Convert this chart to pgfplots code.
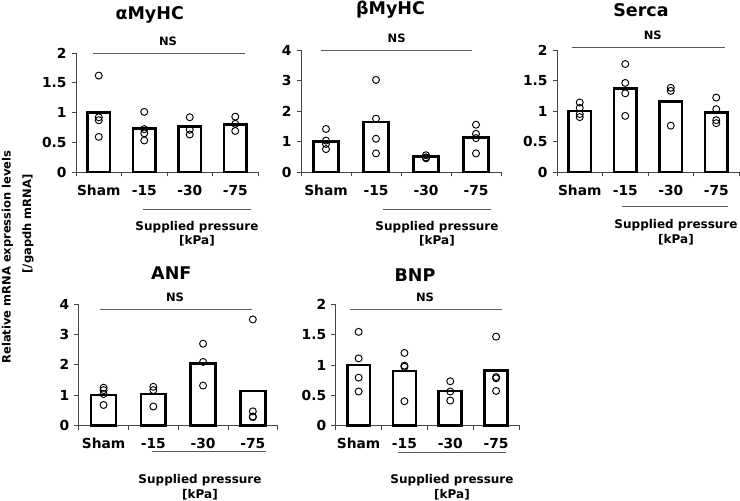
\documentclass[border=0pt]{standalone}
\usepackage{fontspec}
\setmainfont{DejaVu Sans}
\usepackage{pgfplots}
\pgfplotsset{compat=1.18}

\definecolor{axgray}{RGB}{70,70,70}
\definecolor{nsgray}{RGB}{89,89,89}

\pgfplotsset{
  panel/.style={
    scale only axis, anchor=south west, clip=false,
    axis x line*=bottom, axis y line*=left,
    axis line style={-, axgray, line width=0.9pt},
    xmin=-0.5, xmax=3.5, ymin=0,
    xtick={-0.5,0.5,1.5,2.5,3.5},
    xticklabels={Sham,-15,-30,-75},
    x tick label as interval,
    tick align=outside,
    major tick length=4.5pt,
    tick style={axgray, line width=0.9pt},
    ticklabel style={font=\fontsize{13.8}{16}\selectfont\bfseries},
    xticklabel style={yshift=-5pt},
    yticklabel style={xshift=-1.5pt},
    /pgf/number format/assume math mode=true,
  },
  bars/.style={ybar, bar width=0.5, fill=white, draw=black, line width=2.7pt},
  dots/.style={only marks, mark=o, mark size=3.5pt, mark options={black, line width=0.95pt}},
}

\newcommand{\suplab}[2]{\node[align=center, font=\fontsize{12}{14.8}\selectfont\bfseries] at (#1pt,#2pt) {Supplied pressure\\{}[kPa]};}
\newcommand{\nstext}[2]{\node[font=\fontsize{11.5}{13}\selectfont\bfseries] at (#1pt,#2pt) {NS};}

\begin{document}
\begin{tikzpicture}
\path[use as bounding box] (0pt,0pt) rectangle (740pt,501pt);

% alpha MyHC
\begin{axis}[panel, at={(76pt,329pt)}, width=182pt, height=119pt,
  ymax=2, ytick={0,0.5,1,1.5,2}]
\addplot[bars] coordinates {(0,1.0) (1,0.73) (2,0.76) (3,0.80)};
\addplot[dots] coordinates {(0,1.62) (0,0.92) (0,0.87) (0,0.59)
  (1,1.01) (1,0.72) (1,0.65) (1,0.53)
  (2,0.92) (2,0.71) (2,0.63)
  (3,0.93) (3,0.81) (3,0.69)};
\end{axis}

% beta MyHC
\begin{axis}[panel, at={(301pt,329pt)}, width=200pt, height=122pt,
  ymax=4, ytick={0,1,2,3,4}]
\addplot[bars] coordinates {(0,1.0) (1,1.64) (2,0.51) (3,1.14)};
\addplot[dots] coordinates {(0,1.41) (0,1.03) (0,0.92) (0,0.75)
  (1,3.02) (1,1.75) (1,1.09) (1,0.61)
  (2,0.55) (2,0.48) (2,0.45)
  (3,1.55) (3,1.25) (3,1.11) (3,0.61)};
\end{axis}

% Serca
\begin{axis}[panel, at={(557pt,329pt)}, width=182pt, height=122pt,
  ymax=2, ytick={0,0.5,1,1.5,2}]
\addplot[bars] coordinates {(0,1.0) (1,1.37) (2,1.16) (3,0.98)};
\addplot[dots] coordinates {(0,1.14) (0,1.05) (0,0.95) (0,0.90)
  (1,1.77) (1,1.46) (1,1.29) (1,0.92)
  (2,1.38) (2,1.33) (2,0.76)
  (3,1.22) (3,1.03) (3,0.85) (3,0.80)};
\end{axis}

% ANF
\begin{axis}[panel, at={(78.7pt,75.7pt)}, width=199pt, height=121.3pt,
  ymax=4, ytick={0,1,2,3,4}]
\addplot[bars] coordinates {(0,1.0) (1,1.03) (2,2.03) (3,1.13)};
\addplot[dots] coordinates {(0,1.24) (0,1.16) (0,1.03) (0,0.67)
  (1,1.27) (1,1.16) (1,0.62)
  (2,2.69) (2,2.09) (2,1.31)
  (3,3.49) (3,0.46) (3,0.29) (3,0.27)};
\end{axis}

% BNP
\begin{axis}[panel, at={(335.7pt,75.7pt)}, width=183.3pt, height=120.6pt,
  ymax=2, ytick={0,0.5,1,1.5,2}]
\addplot[bars] coordinates {(0,1.0) (1,0.90) (2,0.57) (3,0.91)};
\addplot[dots] coordinates {(0,1.55) (0,1.11) (0,0.79) (0,0.56)
  (1,1.20) (1,0.99) (1,0.97) (1,0.40)
  (2,0.73) (2,0.56) (2,0.41)
  (3,1.47) (3,0.80) (3,0.78) (3,0.57)};
\end{axis}

% titles
\begin{scope}[every node/.style={font=\fontsize{17.5}{20}\selectfont\bfseries}]
\node at (149.7pt,485.7pt) {αMyHC};
\node at (390.5pt,491.8pt) {βMyHC};
\node at (641pt,491.3pt) {Serca};
\node at (171.3pt,227.7pt) {ANF};
\node at (415pt,226.3pt) {BNP};
\end{scope}

% NS brackets
\begin{scope}[nsgray, line width=0.9pt]
\draw (93pt,448pt) -- (245pt,448pt);
\draw (321pt,451pt) -- (472pt,451pt);
\draw (572pt,453.3pt) -- (725pt,453.3pt);
\draw (100pt,191.7pt) -- (252pt,191.7pt);
\draw (350pt,191.7pt) -- (501.7pt,191.7pt);
\end{scope}
\nstext{168}{459.3}
\nstext{396.7}{463}
\nstext{652.7}{466}
\nstext{175}{204}
\nstext{425}{204}

% supplied pressure
\begin{scope}[nsgray, line width=0.9pt]
\draw (143pt,292pt) -- (251pt,292pt);
\draw (383pt,292pt) -- (491pt,292pt);
\draw (621.7pt,294.3pt) -- (728.3pt,294.3pt);
\draw (151.7pt,49.3pt) -- (266pt,49.3pt);
\draw (398.3pt,48.3pt) -- (506.3pt,48.3pt);
\end{scope}
\suplab{197}{267.2}
\suplab{437}{267.2}
\suplab{676}{269}
\suplab{200}{13.5}
\suplab{452}{13.5}

% shared y label
\node[rotate=90, font=\fontsize{11.5}{13}\selectfont\bfseries] at (7.5pt,244pt) {Relative mRNA expression levels};
\node[rotate=90, font=\fontsize{11.5}{13}\selectfont\bfseries] at (28pt,277pt) {[/gapdh mRNA]};
\end{tikzpicture}
\end{document}
